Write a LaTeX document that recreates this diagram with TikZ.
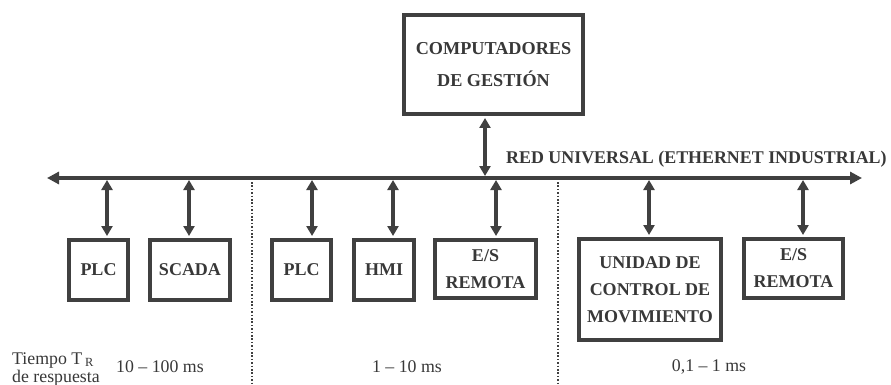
\documentclass[tikz,border=0pt]{standalone}
\usepackage{fontspec}
\setmainfont{Liberation Serif}
\usetikzlibrary{arrows.meta}
\definecolor{ink}{HTML}{404040}
\definecolor{txt}{HTML}{383838}
\begin{document}
\begin{tikzpicture}[x=1pt,y=-1pt,
  box/.style={draw=ink,line width=4pt,inner sep=0pt,align=center,text=txt,
    font=\bfseries\fontsize{18}{27}\selectfont},
  dbl/.style={draw=ink,line width=3.2pt,{Triangle[length=10pt,width=11pt]}-{Triangle[length=10pt,width=11pt]}},
  bus/.style={draw=ink,line width=3.8pt,{Triangle[length=12pt,width=12pt]}-{Triangle[length=12pt,width=12pt]}},
  sep/.style={draw=ink,line width=1.6pt,dash pattern=on 1.6pt off 1.8pt},
  lbl/.style={text=txt,inner sep=0pt,font=\fontsize{17.8}{20}\selectfont}]
\useasboundingbox[fill=white] (0,0) rectangle (891,385);

% boxes
\node[box,minimum width=179pt,minimum height=99pt,font=\bfseries\fontsize{18.2}{32}\selectfont] (comp) at (493.5,64.5) {COMPUTADORES\\DE GESTIÓN};
\node[box,minimum width=59pt,minimum height=60pt] (plc1) at (98.5,270) {PLC};
\node[box,minimum width=80pt,minimum height=60pt] (scada) at (190,270) {SCADA};
\node[box,minimum width=59pt,minimum height=60pt] (plc2) at (301.5,270) {PLC};
\node[box,minimum width=60pt,minimum height=60pt] (hmi) at (384,270) {HMI};
\node[box,minimum width=101pt,minimum height=58pt] (es1) at (485.5,269) {E/S\\REMOTA};
\node[box,minimum width=142pt,minimum height=101pt] (uni) at (650,289.5) {UNIDAD DE\\CONTROL DE\\MOVIMIENTO};
\node[box,minimum width=99pt,minimum height=59pt] (es2) at (793.5,268.5) {E/S\\REMOTA};

% bus
\coordinate (busL) at (47,178);
\coordinate (busR) at (862,178);
\draw[bus] (busL) -- (busR);
\node[lbl,font=\bfseries\fontsize{17.9}{20}\selectfont,anchor=base west] (red) at (506,164) {RED UNIVERSAL (ETHERNET INDUSTRIAL)};

% bus taps
\coordinate (t0) at (485,178);
\coordinate (t1) at (107,178);
\coordinate (t2) at (189,178);
\coordinate (t3) at (312,178);
\coordinate (t4) at (393,178);
\coordinate (t5) at (496,178);
\coordinate (t6) at (649,178);
\coordinate (t7) at (803,178);

\draw[dbl,shorten <=2pt,shorten >=2pt] (t0 |- comp.south) -- (t0);
\draw[dbl,shorten <=2pt,shorten >=2pt] (t1) -- (t1 |- plc1.north);
\draw[dbl,shorten <=2pt,shorten >=2pt] (t2) -- (t2 |- scada.north);
\draw[dbl,shorten <=2pt,shorten >=2pt] (t3) -- (t3 |- plc2.north);
\draw[dbl,shorten <=2pt,shorten >=2pt] (t4) -- (t4 |- hmi.north);
\draw[dbl,shorten <=2pt,shorten >=2pt] (t5) -- (t5 |- es1.north);
\draw[dbl,shorten <=2pt,shorten >=2pt] (t6) -- (t6 |- uni.north);
\draw[dbl,shorten <=2pt,shorten >=2pt] (t7) -- (t7 |- es2.north);

% separators
\coordinate (s1a) at (252,182);
\coordinate (s1b) at (252,385);
\coordinate (s2a) at (558,182);
\coordinate (s2b) at (558,385);
\draw[sep] (s1a) -- (s1b);
\draw[sep] (s2a) -- (s2b);

% bottom labels
\node[lbl,anchor=base west] (tiempo) at (12,364) {Tiempo T\,\textsubscript{R}};
\node[lbl,anchor=base west] (resp) at (12,382) {de respuesta};
\node[lbl] (r1) at (160,367) {10 – 100 ms};
\node[lbl] (r2) at (407,367) {1 – 10 ms};
\node[lbl] (r3) at (709,367) {0,1 – 1 ms};
\end{tikzpicture}
\end{document}
